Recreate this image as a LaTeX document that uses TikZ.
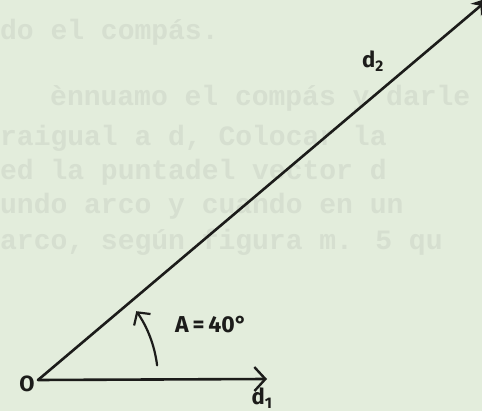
\documentclass[tikz,border=0pt]{standalone}
\usepackage{fontspec}
\setmainfont{Fira Sans}
\newfontfamily\ghostfont{Liberation Mono}
\usetikzlibrary{arrows.meta}
\definecolor{paper}{RGB}{227,237,220}
\definecolor{ghost}{RGB}{214,223,208}
\definecolor{ink}{RGB}{28,28,26}
\tikzset{
  vec/.style={draw=ink, line width=2.6pt, line cap=round},
  lbl/.style={text=ink, font=\fontsize{22}{24}\selectfont\bfseries, inner sep=0pt},
  ghostline/.style={text=ghost, font=\ghostfont\bfseries\fontsize{28}{30}\selectfont, anchor=base west, inner sep=0pt},
  barb/.style={-{Straight Barb[length=11pt,width=24pt,line width=2.4pt]}},
}
\begin{document}
\begin{tikzpicture}[x=1pt,y=-1pt]
\fill[paper] (0,0) rectangle (482,411);
\useasboundingbox (0,0) rectangle (482,411);
\clip (0,0) rectangle (482,411);
% faint show-through text of the paper
\node[ghostline] (g1) at (0,40) {do el compás.};
\node[ghostline] (g2) at (50,106) {ènnuamo el compás y darle};
\node[ghostline] (g3) at (0,146) {raigual a d, Colocar la};
\node[ghostline] (g4) at (0,180) {ed la puntadel vector d};
\node[ghostline] (g5) at (0,214) {undo arco y cuando en un};
\node[ghostline] (g6) at (0,250) {arco, según figura m. 5 qu};
% geometry
\coordinate (O) at (38,380);
\coordinate (D1) at (267,379);
\coordinate (D2) at (491,-3);
\node[lbl] (o) at (27,384) {O};
\draw[vec, barb] (O) -- (D1);
\draw[vec, -{Stealth[length=20pt,width=16pt]}] (O) -- (D2);
\node[lbl, anchor=base] (d1) at (262,405) {d\textsubscript{1}};
\node[lbl] (d2) at (373,61) {d\textsubscript{2}};
\node[lbl, font=\fontsize{23}{24}\selectfont\bfseries] (ang) at (211,325) {A\,=\,40°};
\coordinate (arcstart) at ([shift={(-7:120)}]O);
\draw[vec, line width=2.2pt, -{Straight Barb[length=9pt,width=20pt,line width=2.2pt]}] (arcstart) arc[start angle=-7, end angle=-35, radius=120];
\end{tikzpicture}
\end{document}
